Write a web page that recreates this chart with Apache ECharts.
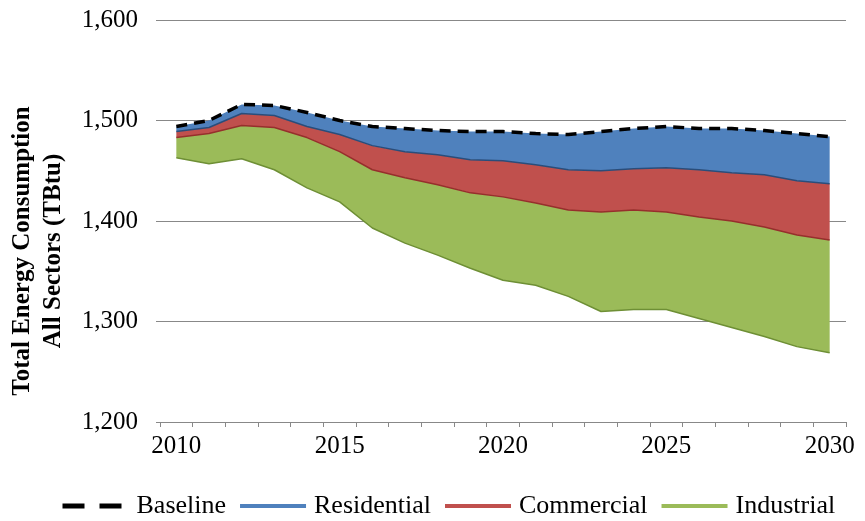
<!DOCTYPE html>
<html>
<head>
<meta charset="utf-8">
<script src="https://cdn.jsdelivr.net/npm/echarts@6/dist/echarts.min.js"></script>
<style>
  html, body { margin: 0; padding: 0; background: #fff; }
  #chart { width: 865px; height: 521px; }
</style>
</head>
<body>
<div id="chart"></div>
<script>
const years = ['2010', '2011', '2012', '2013', '2014', '2015', '2016', '2017', '2018', '2019', '2020',
  '2021', '2022', '2023', '2024', '2025', '2026', '2027', '2028', '2029', '2030']
const baseline = [1494, 1500, 1516, 1515, 1508, 1500, 1494, 1492, 1490, 1489, 1489, 1487, 1486, 1489, 1492, 1494, 1492, 1492, 1490, 1487, 1484]
const residential = [1489, 1493, 1507, 1505, 1494, 1486, 1475, 1469, 1466, 1461, 1460, 1456, 1451, 1450, 1452, 1453, 1451, 1448, 1446, 1440, 1437]
const commercial = [1483, 1487, 1495, 1493, 1483, 1469, 1451, 1443, 1436, 1428, 1424, 1418, 1411, 1409, 1411, 1409, 1404, 1400, 1394, 1386, 1381]
const industrial = [1463, 1457, 1462, 1451, 1433, 1419, 1393, 1378, 1366, 1353, 1341, 1336, 1325, 1310, 1312, 1312, 1303, 1294, 1285, 1275, 1269]
const yTicks = [1200, 1300, 1400, 1500, 1600]

const font = 'Liberation Serif, Times New Roman, serif'

// the bands between the lines, stacked on top of the industrial line
function diff(a, b) {
  return a.map((v, i) => v - b[i])
}

function band(data, color) {
  return {
    type: 'line',
    stack: 'bands',
    data: data,
    symbol: 'none',
    lineStyle: { width: 0, opacity: 0 },
    areaStyle: color ? { color: color, opacity: 1 } : undefined,
    silent: true,
    z: 1
  }
}

function edge(name, data, color, width, type) {
  return {
    name: name,
    type: 'line',
    data: data,
    symbol: 'none',
    lineStyle: { color: color, width: width, type: type || 'solid' },
    itemStyle: { color: color },
    z: 3
  }
}

const chart = echarts.init(document.getElementById('chart'))
chart.setOption({
  animation: false,
  grid: { left: 160, right: 19, top: 20, bottom: 99, containLabel: false, outerBoundsMode: 'none' },
  legend: {
    left: 55,
    top: 488,
    itemWidth: 66,
    itemHeight: 4,
    itemGap: 12,
    textStyle: { fontFamily: font, fontSize: 26, color: '#000', padding: [0, 0, 0, 3] },
    data: [
      { name: 'Baseline', itemStyle: { opacity: 0 }, lineStyle: { color: '#000', width: 5, type: [22, 15] } },
      { name: 'Residential', itemStyle: { opacity: 0 }, lineStyle: { color: '#4F81BD', width: 4 } },
      { name: 'Commercial', itemStyle: { opacity: 0 }, lineStyle: { color: '#C0504D', width: 4 } },
      { name: 'Industrial', itemStyle: { opacity: 0 }, lineStyle: { color: '#9BBB59', width: 4 } }
    ]
  },
  xAxis: {
    type: 'category',
    data: years,
    boundaryGap: true,
    axisLine: { lineStyle: { color: '#888', width: 1 } },
    axisTick: { show: true, interval: 0, length: 5, lineStyle: { color: '#888' } },
    axisLabel: { interval: 4, margin: 12, fontFamily: font, fontSize: 25, color: '#000' },
    splitLine: { show: false }
  },
  yAxis: {
    type: 'value',
    min: yTicks[0],
    max: yTicks[yTicks.length - 1],
    interval: 100,
    name: 'Total Energy Consumption\nAll Sectors (TBtu)',
    nameLocation: 'middle',
    nameGap: 91,
    nameTextStyle: { fontFamily: font, fontSize: 25, fontWeight: 'bold', color: '#000', lineHeight: 31, padding: [0, 60, 0, 0] },
    axisLine: { show: false },
    axisTick: { show: true, length: 4, lineStyle: { color: '#888' } },
    axisLabel: {
      margin: 22,
      fontFamily: font,
      fontSize: 25,
      color: '#000',
      formatter: v => v.toLocaleString('en-US')
    },
    splitLine: { lineStyle: { color: '#888', width: 1 } }
  },
  series: [
    band(industrial, null),
    band(diff(commercial, industrial), '#9BBB59'),
    band(diff(residential, commercial), '#C0504D'),
    band(diff(baseline, residential), '#4F81BD'),
    edge('Industrial', industrial, '#6E8F35', 1.5),
    edge('Commercial', commercial, '#962F2C', 1.5),
    edge('Residential', residential, '#2A4D7A', 1.5),
    edge('Baseline', baseline, '#000', 3.5, [11, 7])
  ]
})
</script>
</body>
</html>
